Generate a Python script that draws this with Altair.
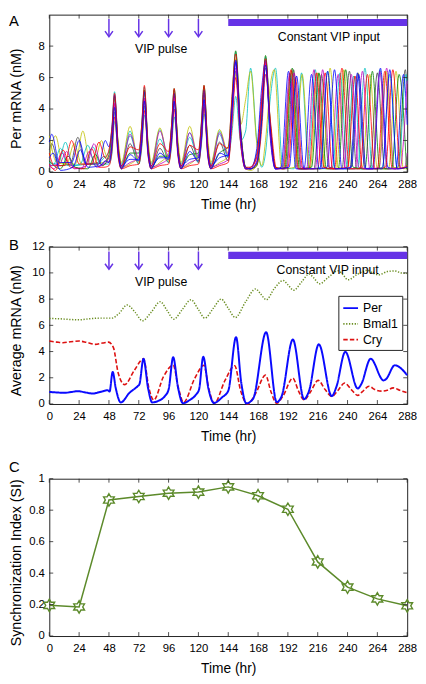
import altair as alt
import pandas as pd

FONT = "Liberation Sans"
W, H = 364, 160
TICK_LEN = 4
FRAME = "#222222"
PURPLE = "#6633e6"

# ---------------- shared ticks ----------------
X_TICKS = [0, 24, 48, 72, 96, 120, 144, 168, 192, 216, 240, 264, 288]
A_Y_TICKS = [0, 2, 4, 6, 8]
B_Y_TICKS = [0, 2, 4, 6, 8, 10, 12]
C_Y_TICKS = [0, 0.2, 0.4, 0.6, 0.8, 1]

PULSE_TIMES = [48, 72, 96, 120]
VIP_CONST = [144, 288]

# ---------------- Panel A: Per mRNA of individual cells (estimated) ----------------
A_NAMES = ["c01", "c02", "c03", "c04", "c05", "c06", "c07", "c08", "c09", "c10", "c11", "c12"]
A_COLORS = ["#bfbf00", "#00bfbf", "#404040", "#00bfbf", "#bf00bf", "#bfbf00",
            "#008000", "#ff0000", "#0000ff", "#bf00bf", "#ff0000", "#0000ff"]

A_PRE_01 = [(0, 0.9), (5, 2.3), (11, 0.5), (21, 0.5), (27, 2.6), (33, 0.5), (43, 0.6)]
A_PRE_02 = [(0, 0.5), (3, 0.4), (9, 1.5), (15, 0.4), (25, 0.5), (31, 1.7), (37, 0.4), (44, 0.9)]
A_PRE_03 = [(0, 1.4), (2, 1.8), (8, 0.4), (17, 0.5), (23, 2.2), (29, 0.5), (39, 0.6), (44, 1.0)]
A_PRE_04 = [(0, 0.6), (7, 0.5), (13, 1.9), (19, 0.4), (29, 0.5), (35, 1.6), (41, 0.5), (45, 0.5)]
A_PRE_05 = [(0, 0.4), (4, 0.2), (10, 1.2), (16, 0.5), (26, 0.2), (32, 1.3), (38, 0.3), (44, 0.5)]
A_PRE_06 = [(0, 2.3), (6, 0.6), (14, 0.5), (20, 1.8), (26, 0.5), (36, 0.5), (42, 2.0), (45, 1.2)]
A_PRE_07 = [(0, 0.7), (9, 0.2), (15, 1.0), (21, 0.3), (31, 0.2), (37, 1.1), (43, 0.4)]
A_PRE_08 = [(0, 0.5), (5, 0.1), (11, 1.4), (17, 0.3), (28, 0.2), (34, 1.5), (40, 0.3), (44, 0.3)]
A_PRE_09 = [(0, 1.9), (2, 2.4), (8, 0.6), (18, 0.6), (24, 2.0), (30, 0.5), (40, 0.5), (45, 2.0)]
A_PRE_10 = [(0, 0.4), (8, 0.5), (14, 1.3), (20, 0.2), (30, 0.4), (36, 1.8), (42, 0.4), (45, 0.7)]
A_PRE_11 = [(0, 1.2), (4, 0.4), (12, 0.4), (18, 2.0), (24, 0.5), (34, 0.5), (40, 1.9), (45, 0.9)]
A_PRE_12 = [(0, 0.9), (3, 1.2), (9, 0.1), (19, 0.3), (25, 1.4), (31, 0.3), (41, 0.4), (45, 0.7)]

SYNC_T = [48, 50.5, 52.5, 55.5, 58, 65, 72, 74.5, 76.5, 79.5, 82, 89, 96, 98.5, 100.5, 103.5, 106,
          113, 120, 122.5, 124.5, 127.5, 130, 137, 144, 147, 150, 154, 158, 162, 167, 171, 174, 178]

A_SYNC_01 = [0.9, 2.2, 4.6, 1.3, 0.3, 0.5, 1.0, 2.6, 5.0, 1.4, 0.3, 0.6, 1.2, 2.8, 5.0, 1.4, 0.3, 0.5, 1.1, 2.6, 4.9, 1.3, 0.3, 0.6, 1.0, 3.8, 7.2, 2.2, 0.2, 0.1, 0.4, 3.6, 6.9, 2.4]
A_SYNC_02 = [1.3, 3.0, 5.1, 1.6, 0.4, 2.3, 0.7, 3.2, 5.4, 1.7, 0.4, 2.1, 0.8, 3.1, 5.2, 1.6, 0.4, 2.2, 0.9, 3.3, 5.4, 1.7, 0.4, 2.4, 0.9, 4.4, 7.6, 2.6, 0.3, 0.2, 0.6, 4.2, 7.3, 2.8]
A_SYNC_03 = [0.6, 1.6, 3.8, 1.0, 0.2, 1.8, 0.5, 2.0, 4.2, 1.1, 0.2, 1.5, 0.6, 2.2, 4.4, 1.2, 0.2, 1.7, 0.6, 2.1, 4.3, 1.1, 0.2, 1.9, 0.7, 3.4, 6.4, 1.8, 0.2, 0.3, 1.2, 4.6, 6.6, 2.2]
A_SYNC_04 = [0.5, 1.2, 3.2, 1.4, 0.5, 2.6, 0.5, 1.6, 3.6, 1.6, 0.5, 2.7, 0.6, 1.7, 3.5, 1.5, 0.5, 2.5, 0.6, 1.8, 3.7, 1.6, 0.5, 2.6, 1.0, 2.5, 4.8, 2.0, 2.6, 6.6, 2.0, 0.3, 1.2, 4.8]
A_SYNC_05 = [0.7, 1.9, 4.3, 1.2, 0.3, 0.6, 0.9, 2.4, 4.7, 1.3, 0.3, 0.5, 0.9, 2.5, 4.8, 1.3, 0.3, 0.6, 0.9, 2.6, 5.0, 1.3, 0.3, 0.5, 0.8, 3.6, 6.9, 2.2, 0.2, 0.2, 0.7, 3.9, 7.0, 2.5]
A_SYNC_06 = [0.8, 2.2, 4.0, 1.9, 0.6, 2.9, 0.6, 2.3, 4.4, 2.0, 0.6, 2.8, 0.7, 2.4, 4.6, 2.1, 0.6, 2.9, 0.7, 2.5, 4.7, 2.2, 0.6, 2.7, 1.2, 3.6, 6.2, 3.0, 4.6, 6.4, 1.8, 0.4, 2.0, 5.6]
A_SYNC_07 = [1.1, 2.6, 4.8, 1.5, 0.3, 1.2, 1.2, 3.0, 5.2, 1.5, 0.3, 1.0, 1.0, 3.0, 5.3, 1.6, 0.3, 1.1, 1.2, 3.1, 5.5, 1.6, 0.3, 1.2, 1.6, 4.6, 7.7, 2.8, 0.3, 0.2, 0.4, 3.4, 7.4, 3.0]
A_SYNC_08 = [0.4, 1.4, 3.5, 0.9, 0.2, 0.4, 0.5, 1.8, 3.9, 1.0, 0.2, 0.4, 0.5, 1.9, 4.0, 1.0, 0.2, 0.4, 0.5, 2.0, 4.1, 1.0, 0.2, 0.4, 0.6, 3.0, 6.0, 1.8, 0.2, 0.2, 0.5, 2.8, 6.2, 3.2]
A_SYNC_09 = [1.6, 2.8, 4.9, 1.4, 0.4, 0.8, 0.8, 2.8, 5.1, 1.5, 0.4, 0.9, 0.9, 2.9, 5.0, 1.5, 0.4, 0.8, 0.9, 2.9, 5.2, 1.5, 0.4, 0.9, 1.1, 4.1, 7.0, 2.5, 0.3, 0.2, 1.5, 5.4, 7.1, 2.0]
A_SYNC_10 = [0.9, 2.0, 4.4, 1.3, 0.3, 2.4, 0.9, 2.3, 4.6, 1.3, 0.3, 2.6, 1.0, 2.4, 4.7, 1.3, 0.3, 2.5, 1.0, 2.3, 4.6, 1.3, 0.3, 2.5, 1.1, 3.5, 6.6, 2.0, 0.2, 0.3, 0.9, 4.8, 6.9, 2.3]
A_SYNC_11 = [1.4, 2.9, 5.0, 1.6, 0.4, 1.6, 1.4, 3.1, 5.5, 1.6, 0.4, 1.8, 1.3, 3.1, 5.3, 1.6, 0.4, 1.7, 1.4, 3.2, 5.5, 1.7, 0.4, 1.8, 1.5, 4.8, 7.5, 2.6, 0.3, 0.3, 1.0, 4.5, 7.2, 2.9]
A_SYNC_12 = [0.6, 1.8, 4.1, 1.2, 0.2, 1.1, 0.7, 2.1, 4.5, 1.2, 0.2, 1.2, 0.8, 2.2, 4.5, 1.2, 0.2, 1.3, 0.7, 2.2, 4.6, 1.2, 0.2, 1.2, 1.0, 3.9, 7.1, 2.3, 0.2, 0.2, 0.6, 3.3, 6.8, 2.6]

A_POST_01 = [(182, 0.3), (189, 0.2), (195, 6.4), (201, 0.2), (210, 0.3), (216, 6.3), (222, 0.2), (231, 0.2), (237, 6.5), (243, 0.2), (252, 0.3), (258, 6.2), (264, 0.2), (273, 0.2), (279, 6.4), (285, 0.2), (288, 0.4)]
A_POST_02 = [(182, 0.2), (188, 0.3), (194, 6.2), (200, 0.2), (208, 0.2), (214, 6.5), (220, 0.2), (228, 0.3), (234, 6.3), (240, 0.2), (248, 0.2), (254, 6.6), (260, 0.2), (268, 0.3), (274, 6.2), (280, 0.2), (288, 0.3)]
A_POST_03 = [(182, 0.2), (190.5, 0.3), (196.5, 6.5), (202.5, 0.2), (213, 0.2), (219, 6.2), (225, 0.3), (235.5, 0.2), (241.5, 6.4), (247.5, 0.2), (258, 0.2), (264, 6.3), (270, 0.2), (280.5, 0.3), (286.5, 6.5), (288, 5.2)]
A_POST_04 = [(182, 6.6), (188, 0.3), (197, 0.2), (203, 6.3), (209, 0.2), (218, 0.3), (224, 6.4), (230, 0.2), (239, 0.2), (245, 6.1), (251, 0.2), (260, 0.3), (266, 6.5), (272, 0.2), (281, 0.2), (287, 6.2), (288, 5.6)]
A_POST_05 = [(182, 0.2), (187.5, 0.3), (193.5, 6.3), (199.5, 0.2), (207, 0.2), (213, 6.5), (219, 0.3), (226.5, 0.2), (232.5, 6.2), (238.5, 0.2), (246, 0.2), (252, 6.4), (258, 0.2), (265.5, 0.3), (271.5, 6.6), (277.5, 0.2), (286, 0.3), (288, 1.2)]
A_POST_06 = [(181, 6.5), (187, 0.2), (197.5, 0.3), (203.5, 6.2), (209.5, 0.2), (220, 0.2), (226, 6.6), (232, 0.3), (242.5, 0.2), (248.5, 6.3), (254.5, 0.2), (265, 0.2), (271, 6.4), (277, 0.3), (288, 0.2)]
A_POST_07 = [(182, 0.3), (189.5, 0.2), (195.5, 6.6), (201.5, 0.2), (211, 0.3), (217, 6.3), (223, 0.2), (232.5, 0.2), (238.5, 6.5), (244.5, 0.3), (254, 0.2), (260, 6.4), (266, 0.2), (275.5, 0.2), (281.5, 6.2), (287.5, 0.2)]
A_POST_08 = [(183, 0.2), (192, 0.3), (198, 6.0), (204, 0.2), (216, 0.2), (222, 6.3), (228, 0.2), (240, 0.3), (246, 6.1), (252, 0.2), (264, 0.2), (270, 6.4), (276, 0.2), (288, 0.3)]
A_POST_09 = [(182, 0.2), (186.5, 0.3), (192.5, 6.4), (198.5, 0.2), (205, 0.2), (211, 6.2), (217, 0.2), (223.5, 0.3), (229.5, 6.5), (235.5, 0.2), (242, 0.2), (248, 6.3), (254, 0.2), (260.5, 0.2), (266.5, 6.6), (272.5, 0.3), (279, 0.2), (285, 6.2), (288, 3.0)]
A_POST_10 = [(182, 0.2), (191, 0.2), (197, 6.3), (203, 0.3), (214, 0.2), (220, 6.5), (226, 0.2), (237, 0.2), (243, 6.2), (249, 0.3), (260, 0.2), (266, 6.4), (272, 0.2), (282, 0.2), (288, 5.8)]
A_POST_11 = [(182, 0.3), (188.5, 0.2), (194.5, 6.5), (200.5, 0.2), (209, 0.2), (215, 6.3), (221, 0.3), (229.5, 0.2), (235.5, 6.6), (241.5, 0.2), (250, 0.2), (256, 6.2), (262, 0.2), (270.5, 0.3), (276.5, 6.5), (282.5, 0.2), (288, 0.4)]
A_POST_12 = [(182, 0.2), (193, 0.3), (199, 6.1), (205, 0.2), (218, 0.2), (224, 6.4), (230, 0.2), (243, 0.3), (249, 6.2), (255, 0.2), (268, 0.2), (274, 6.5), (280, 0.2), (288, 0.3)]

A_TRACES = [
    (A_PRE_01, A_SYNC_01, A_POST_01), (A_PRE_02, A_SYNC_02, A_POST_02),
    (A_PRE_03, A_SYNC_03, A_POST_03), (A_PRE_04, A_SYNC_04, A_POST_04),
    (A_PRE_05, A_SYNC_05, A_POST_05), (A_PRE_06, A_SYNC_06, A_POST_06),
    (A_PRE_07, A_SYNC_07, A_POST_07), (A_PRE_08, A_SYNC_08, A_POST_08),
    (A_PRE_09, A_SYNC_09, A_POST_09), (A_PRE_10, A_SYNC_10, A_POST_10),
    (A_PRE_11, A_SYNC_11, A_POST_11), (A_PRE_12, A_SYNC_12, A_POST_12),
]

# ---------------- Panel B: average mRNA ----------------
B_SERIES = ["Per", "Bmal1", "Cry"]
B_COLORS = ["#0a0aff", "#6b8e23", "#dd1111"]
B_DASHES = [[1, 0], [1.3, 1.6], [4.5, 2.2]]
B_WIDTHS = [2.0, 1.5, 1.6]

PER = [(0, 0.92), (6, 0.88), (12, 0.85), (18, 0.92), (23, 0.98), (29, 0.88), (35, 0.8), (41, 0.92),
       (47, 1.05), (48.5, 0.95), (51, 2.45), (53.5, 1.2), (57.5, 0.12), (64.5, 0.85), (71, 1.35),
       (72.5, 1.5), (75.8, 3.45), (79.5, 1.2), (82.8, 0.12), (88, 0.25), (93, 0.6), (96, 1.1),
       (99.7, 3.57), (103.5, 1.3), (107.5, 0.06), (113, 0.3), (117.9, 0.7), (120.5, 1.1), (123.9, 3.6),
       (128, 1.2), (132.5, 0.08), (139, 0.5), (144, 1.0), (150.3, 5.1), (154.5, 1.6), (158.5, 0.05),
       (164, 0.4), (174.5, 5.48), (183, 0.15), (187, 0.6), (196, 4.92), (205, 0.37), (209, 1.0),
       (216.9, 4.55), (227.3, 0.6), (231, 1.3), (238.2, 3.98), (248.2, 1.18), (251, 1.5), (258.6, 3.45),
       (269, 1.8), (271, 1.9), (278, 2.95), (288, 2.2)]

BMAL1 = [(0, 6.52), (8, 6.5), (16, 6.45), (24.2, 6.42), (32, 6.5), (40, 6.55), (50.2, 6.55), (56, 6.9),
         (62.7, 7.55), (69, 7.0), (75, 6.35), (82, 7.0), (89.3, 7.8), (95, 7.1), (100.2, 6.47),
         (107, 7.2), (114, 7.95), (120, 7.2), (125.2, 6.55), (132, 7.3), (138.3, 8.0), (144, 7.3),
         (149.7, 6.6), (158, 7.8), (166.1, 8.78), (170, 8.4), (174.7, 7.95), (181, 8.8), (188.3, 9.42),
         (192, 9.1), (196.6, 8.68), (203, 9.3), (209, 9.91), (213, 9.6), (217.4, 9.17), (225, 9.7),
         (232.5, 10.16), (236, 9.9), (240.3, 9.47), (248, 9.9), (256, 10.2), (261, 9.95), (265, 9.85),
         (272, 10.1), (278, 10.15), (283, 10.0), (288, 9.96)]

CRY = [(0, 4.8), (6, 4.72), (11, 4.67), (17, 4.75), (24, 4.8), (30, 4.7), (37, 4.55), (43, 4.65),
       (47.6, 4.72), (51.6, 4.3), (55.5, 2.34), (60.7, 1.48), (68.5, 2.58), (75.8, 3.45), (80.2, 1.2),
       (84, 0.3), (91.9, 2.09), (99.7, 2.95), (104, 1.2), (108, 0.12), (117, 1.95), (124.4, 2.95),
       (128.5, 1.1), (132.8, 0.06), (141.4, 1.8), (149.2, 2.92), (154, 1.0), (159.6, 0.0), (166, 0.8),
       (174, 2.2), (178.5, 0.9), (183, 0.05), (188, 0.6), (196, 1.97), (200.5, 1.0), (205, 0.3),
       (210, 0.9), (216.4, 1.8), (222, 1.1), (227.3, 0.57), (232, 1.0), (237.7, 1.6), (243, 1.1),
       (248.2, 0.66), (252, 0.95), (257.3, 1.35), (262, 1.1), (267.7, 0.98), (272, 1.05), (276.8, 1.23),
       (282, 1.05), (288, 0.86)]

# ---------------- Panel C: synchronization index ----------------
SI_T = [0, 24, 48, 72, 96, 120, 144, 168, 192, 216, 240, 264, 288]
SI_V = [0.195, 0.185, 0.865, 0.887, 0.908, 0.915, 0.948, 0.892, 0.806, 0.471, 0.311, 0.236, 0.192]
SI_COLOR = "#5c8a2a"
HEXAGRAM = ("M0,-1L0.289,-0.5L0.866,-0.5L0.577,0L0.866,0.5L0.289,0.5L0,1L-0.289,0.5"
            "L-0.866,0.5L-0.577,0L-0.866,-0.5L-0.289,-0.5Z")

# ---------------- helpers ----------------
xs = alt.Scale(domain=[0, 288], nice=False, zero=False)


def x_axis():
    return alt.Axis(values=X_TICKS, title="Time (hr)", grid=False, domain=False, ticks=False,
                    tickSize=0, labelPadding=7, labelFontSize=11.5, labelFont=FONT,
                    labelColor="black", labelFlush=False, labelOverlap=False, labelBound=False,
                    titleFont=FONT, titleFontSize=14, titleFontWeight="normal",
                    titleColor="black", titlePadding=8)


def y_axis(vals, title, fmt=None):
    kw = dict(values=vals, title=title, grid=False, domain=False, ticks=False, tickSize=0,
              labelPadding=5, labelFontSize=11.5, labelFont=FONT, labelColor="black",
              labelOverlap=False, labelFlush=False, labelBound=False, titleFont=FONT,
              titleFontSize=14.5, titleFontWeight="normal", titleColor="black", titleAngle=270,
              titleAlign="center", titleBaseline="bottom", titleX=-26, titleY=H / 2 + 5)
    if fmt:
        kw["format"] = fmt
    return alt.Axis(**kw)


def inner_ticks(ys, y_vals, ax, ay):
    xdf = pd.DataFrame({"t": X_TICKS})
    ydf = pd.DataFrame({"v": y_vals})
    bx = alt.Chart(xdf).mark_rule(color=FRAME, strokeWidth=0.8)
    by = alt.Chart(ydf).mark_rule(color=FRAME, strokeWidth=0.8)
    xe = alt.X("t:Q", scale=xs, axis=ax)
    ye = alt.Y("v:Q", scale=ys, axis=ay)
    return [
        bx.encode(x=xe, y=alt.value(H), y2=alt.value(H - TICK_LEN)),
        bx.encode(x=xe, y=alt.value(0), y2=alt.value(TICK_LEN)),
        by.encode(y=ye, x=alt.value(0), x2=alt.value(TICK_LEN)),
        by.encode(y=ye, x=alt.value(W), x2=alt.value(W - TICK_LEN)),
    ]


def letter(txt, base_y):
    return alt.Chart(pd.DataFrame({"k": [0]})).mark_text(
        text=txt, align="left", baseline="alphabetic", fontSize=15, font=FONT, color="black"
    ).encode(x=alt.value(-41), y=alt.value(base_y))


def vip_annotations(ys, ax, ay, arrow_top, arrow_tip, bar_lo, bar_hi, pulse_pos, const_pos):
    pdf = pd.DataFrame({"t": PULSE_TIMES})
    shafts = alt.Chart(pdf).mark_rule(color=PURPLE, strokeWidth=1.5).encode(
        x=alt.X("t:Q", scale=xs, axis=ax),
        y=alt.YDatum(arrow_top, scale=ys, axis=ay),
        y2=alt.Y2Datum(arrow_tip + 0.05))
    heads = alt.Chart(pdf).mark_point(
        shape="M-1,-1.4L0,0L1,-1.4", filled=False, size=64, color=PURPLE, strokeWidth=1.5,
        opacity=1).encode(
        x=alt.X("t:Q", scale=xs, axis=ax),
        y=alt.YDatum(arrow_tip, scale=ys, axis=ay))
    bar = alt.Chart(pd.DataFrame({"t": [VIP_CONST[0]], "t1": [VIP_CONST[1]]})).mark_rect(
        color=PURPLE).encode(
        x=alt.X("t:Q", scale=xs, axis=ax), x2="t1:Q",
        y=alt.YDatum(bar_lo, scale=ys, axis=ay), y2=alt.Y2Datum(bar_hi))
    one = pd.DataFrame({"k": [0]})
    t1 = alt.Chart(one).mark_text(text="VIP pulse", fontSize=12.5, font=FONT, color="black",
                                  baseline="middle").encode(
        x=alt.XDatum(pulse_pos[0], scale=xs, axis=ax),
        y=alt.YDatum(pulse_pos[1], scale=ys, axis=ay))
    t2 = alt.Chart(one).mark_text(text="Constant VIP input", fontSize=12.5, font=FONT,
                                  color="black", baseline="middle").encode(
        x=alt.XDatum(const_pos[0], scale=xs, axis=ax),
        y=alt.YDatum(const_pos[1], scale=ys, axis=ay))
    return [shafts, heads, bar, t1, t2]


# ---------------- Panel A ----------------
rows = []
for name, (pre, sync, post) in zip(A_NAMES, A_TRACES):
    for t, v in pre:
        rows.append({"cell": name, "t": t, "v": v})
    for t, v in zip(SYNC_T, sync):
        rows.append({"cell": name, "t": t, "v": v})
    for t, v in post:
        rows.append({"cell": name, "t": t, "v": v})
dfA = pd.DataFrame(rows)
ysA = alt.Scale(domain=[0, 10], nice=False, zero=False)
axXA = x_axis()
axYA = y_axis(A_Y_TICKS, "Per mRNA (nM)")

tracesA = alt.Chart(dfA).mark_line(interpolate="monotone", strokeWidth=0.9, opacity=0.9).encode(
    x=alt.X("t:Q", scale=xs, axis=axXA),
    y=alt.Y("v:Q", scale=ysA, axis=axYA),
    color=alt.Color("cell:N", scale=alt.Scale(domain=A_NAMES, range=A_COLORS), legend=None),
)
panelA = alt.layer(
    tracesA,
    *vip_annotations(ysA, axXA, axYA, 9.73, 8.6, 9.27, 9.73, (90, 7.82), (225, 8.59)),
    letter("A", 12),
    *inner_ticks(ysA, A_Y_TICKS, axXA, axYA),
).properties(width=W, height=H)

# ---------------- Panel B ----------------
ysB = alt.Scale(domain=[0, 12], nice=False, zero=False)
axXB = x_axis()
axYB = y_axis(B_Y_TICKS, "Average mRNA (nM)")

legB = alt.Legend(title=None, orient="none", legendX=294, legendY=50, symbolType="stroke",
                  symbolSize=225, symbolStrokeWidth=1.8, labelFont=FONT, labelFontSize=12.5,
                  labelColor="black", padding=4, rowPadding=1, strokeColor=FRAME,
                  fillColor="white", labelOffset=4)

gene_layers = []
for name, series, w in zip(B_SERIES, [PER, BMAL1, CRY], B_WIDTHS):
    dfg = pd.DataFrame({"gene": [name] * len(series),
                        "t": [p[0] for p in series], "v": [p[1] for p in series]})
    gene_layers.append(
        alt.Chart(dfg).mark_line(interpolate="monotone", strokeWidth=w).encode(
            x=alt.X("t:Q", scale=xs, axis=axXB),
            y=alt.Y("v:Q", scale=ysB, axis=axYB),
            color=alt.Color("gene:N", scale=alt.Scale(domain=B_SERIES, range=B_COLORS),
                            legend=legB),
            strokeDash=alt.StrokeDash("gene:N", scale=alt.Scale(domain=B_SERIES, range=B_DASHES),
                                      legend=legB),
        )
    )

panelB = alt.layer(
    gene_layers[1], gene_layers[2], gene_layers[0],
    *vip_annotations(ysB, axXB, axYB, 11.64, 10.28, 11.06, 11.61, (90, 9.28), (224, 10.2)),
    letter("B", 3),
    *inner_ticks(ysB, B_Y_TICKS, axXB, axYB),
).properties(width=W, height=H)

# ---------------- Panel C ----------------
dfC = pd.DataFrame({"t": SI_T, "v": SI_V})
ysC = alt.Scale(domain=[0, 1], nice=False, zero=False)
axXC = x_axis()
axYC = y_axis(C_Y_TICKS, "Synchronization Index (SI)", fmt="~g")
lineC = alt.Chart(dfC).mark_line(color=SI_COLOR, strokeWidth=1.5).encode(
    x=alt.X("t:Q", scale=xs, axis=axXC),
    y=alt.Y("v:Q", scale=ysC, axis=axYC),
)
ptsC = alt.Chart(dfC).mark_point(shape=HEXAGRAM, filled=False, size=160, color=SI_COLOR,
                                 strokeWidth=1.4, opacity=1).encode(
    x=alt.X("t:Q", scale=xs, axis=axXC),
    y=alt.Y("v:Q", scale=ysC, axis=axYC),
)
panelC = alt.layer(
    lineC, ptsC, letter("C", -7), *inner_ticks(ysC, C_Y_TICKS, axXC, axYC)
).properties(width=W, height=H)

chart = alt.vconcat(panelA, panelB, panelC, spacing=76, bounds="flush").properties(
    padding=0
).resolve_scale(
    color="independent", strokeDash="independent"
).configure_view(stroke=FRAME, strokeWidth=1)

chart.save("out.html", embed_options={"renderer": "svg", "actions": False})
